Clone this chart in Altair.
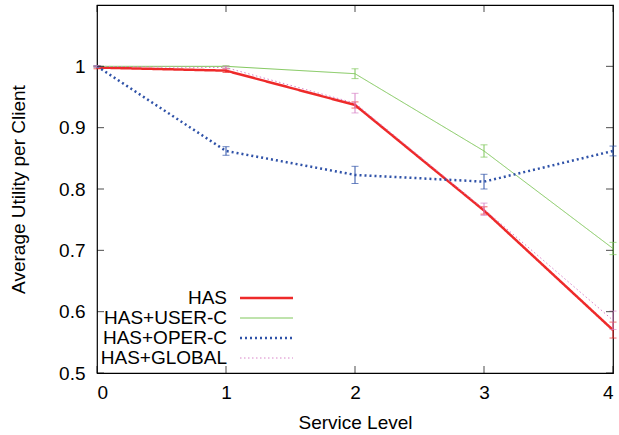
import altair as alt
import pandas as pd

levels = [0, 1, 2, 3, 4]
series = ["HAS", "HAS+USER-C", "HAS+OPER-C", "HAS+GLOBAL"]
values = {
    "HAS":        [0.998, 0.993, 0.937, 0.765, 0.570],
    "HAS+USER-C": [1.000, 1.000, 0.988, 0.862, 0.703],
    "HAS+OPER-C": [1.000, 0.862, 0.823, 0.812, 0.862],
    "HAS+GLOBAL": [1.000, 0.998, 0.940, 0.767, 0.586],
}
errors = {
    "HAS":        [0.002, 0.003, 0.005, 0.006, 0.013],
    "HAS+USER-C": [0.001, 0.001, 0.008, 0.010, 0.010],
    "HAS+OPER-C": [0.001, 0.007, 0.014, 0.012, 0.008],
    "HAS+GLOBAL": [0.001, 0.002, 0.016, 0.010, 0.015],
}
colors = ["#ee2a2a", "#7fc75a", "#2f52a8", "#d884c8"]
dashes = [[1, 0], [1, 0], [2, 3], [1.5, 2.5]]
widths = [2.5, 1, 2.5, 1]
y_ticks = [0.5, 0.6, 0.7, 0.8, 0.9, 1.0]
x_ticks = [0, 1, 2, 3, 4]

rows = []
for s in series:
    for lv, v, e in zip(levels, values[s], errors[s]):
        rows.append({"level": lv, "value": v, "lo": v - e, "hi": v + e, "series": s})
df = pd.DataFrame(rows)

FONT = "Liberation Sans"
FS = 19
W, H = 516, 368
xs = alt.Scale(domain=[0, 4], nice=False, zero=False)
ys = alt.Scale(domain=[0.5, 1.1], nice=False, zero=False)
xaxis = alt.Axis(values=x_ticks, format="d", ticks=False, domain=False, grid=False,
                 labelPadding=10, titlePadding=11)
yaxis = alt.Axis(values=y_ticks, format="~g", ticks=False, domain=False, grid=False,
                 labelPadding=12, titlePadding=30)
XT = "Service Level"
YT = "Average Utility per Client"


def X(field):
    return alt.X(field, scale=xs, title=XT, axis=xaxis)


def Y(field):
    return alt.Y(field, scale=ys, title=YT, axis=yaxis)


layers = []
base = alt.Chart(df)
for s, c, dsh, w in zip(series, colors, dashes, widths):
    d = base.transform_filter(alt.datum.series == s)
    layers.append(d.mark_rule(strokeWidth=1, color=c).encode(
        x=X("level:Q"), y=Y("lo:Q"), y2="hi:Q"))
    layers.append(d.mark_tick(orient="horizontal", size=7, thickness=1, color=c).encode(
        x=X("level:Q"), y=Y("lo:Q")))
    layers.append(d.mark_tick(orient="horizontal", size=7, thickness=1, color=c).encode(
        x=X("level:Q"), y=Y("hi:Q")))
    layers.append(d.mark_line(clip=True, color=c, strokeDash=dsh, strokeWidth=w).encode(
        x=X("level:Q"), y=Y("value:Q")))

# frame ticks (gnuplot-style, inward, mirrored)
yt = pd.DataFrame({"v": y_ticks})
xt = pd.DataFrame({"v": x_ticks})
layers.append(alt.Chart(yt).mark_tick(orient="horizontal", size=7, thickness=1, color="black", xOffset=3.5)
              .encode(x=alt.value(0), y=Y("v:Q")))
layers.append(alt.Chart(yt).mark_tick(orient="horizontal", size=7, thickness=1, color="black", xOffset=-3.5)
              .encode(x=alt.value(W), y=Y("v:Q")))
layers.append(alt.Chart(xt).mark_tick(orient="vertical", size=7, thickness=1, color="black", yOffset=-3.5)
              .encode(x=X("v:Q"), y=alt.value(H)))
layers.append(alt.Chart(xt).mark_tick(orient="vertical", size=7, thickness=1, color="black", yOffset=3.5)
              .encode(x=X("v:Q"), y=alt.value(0)))

# manual gnuplot-style legend
for i, (s, c, dsh, w) in enumerate(zip(series, colors, dashes, widths)):
    ld = pd.DataFrame({"series": [s]})
    yy = 293 + 20 * i
    layers.append(alt.Chart(ld).mark_text(align="right", baseline="middle", font=FONT,
                                          fontSize=FS, color="black")
                  .encode(x=alt.value(130), y=alt.value(yy), text="series:N"))
    layers.append(alt.Chart(ld).mark_rule(color=c, strokeDash=dsh, strokeWidth=w).encode(
        x=alt.value(143), x2=alt.value(196), y=alt.value(yy)))

chart = alt.layer(*layers).properties(
    width=W, height=H,
    autosize=alt.AutoSizeParams(type="none"),
    padding={"left": 97, "top": 5, "right": 6, "bottom": 62},
    background="white",
).configure_view(stroke="black", strokeWidth=1.2).configure_axis(
    labelFont=FONT, titleFont=FONT, labelFontSize=FS, titleFontSize=FS,
    labelColor="black", titleColor="black", titleFontWeight="normal", grid=False,
)

chart.save("out.html", embed_options={"renderer": "svg", "actions": False})
